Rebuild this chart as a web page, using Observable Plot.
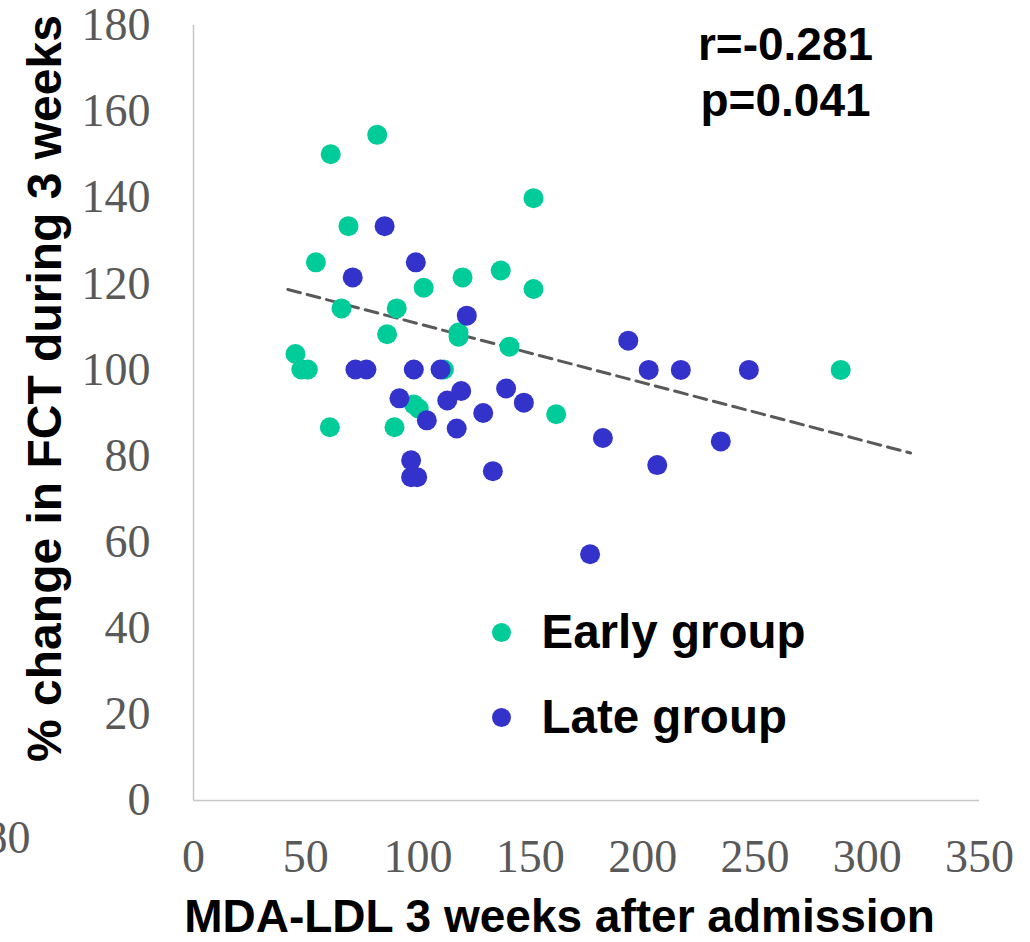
<!DOCTYPE html>
<html>
<head>
<meta charset="utf-8">
<script src="https://cdn.jsdelivr.net/npm/d3@7"></script>
<script src="https://cdn.jsdelivr.net/npm/@observablehq/plot@0.6"></script>
<style>
  html, body { margin: 0; padding: 0; background: #fff; overflow: hidden; }
  #chart svg { display: block; }
</style>
</head>
<body>
<div id="chart"></div>
<script>
// ---- Data ----
const earlyX = [81.8, 61.1, 151.4, 69.0, 54.5, 136.8, 119.8, 102.5, 151.4, 65.9, 90.5, 86.2, 118.0, 118.0, 140.7, 45.4, 48.0, 50.9, 111.5, 288.2, 98.1, 100.3, 161.5, 60.7, 89.5];
const earlyY = [154.6, 150.1, 139.9, 133.4, 125.0, 123.1, 121.5, 119.1, 118.8, 114.3, 114.3, 108.3, 108.7, 107.7, 105.4, 103.7, 100.1, 100.1, 100.1, 100.0, 92.0, 91.0, 89.7, 86.7, 86.7];
const lateX = [85.1, 99.0, 70.9, 121.7, 193.6, 72.1, 77.0, 98.1, 110.0, 202.7, 217.0, 247.3, 91.7, 113.0, 119.2, 139.2, 147.1, 129.0, 103.9, 117.2, 96.9, 96.9, 99.6, 133.3, 182.3, 206.5, 234.8, 176.6];
const lateY = [133.4, 125.0, 121.5, 112.6, 106.8, 100.1, 100.1, 100.1, 100.1, 100.0, 100.0, 100.0, 93.4, 92.9, 95.1, 95.7, 92.4, 90.0, 88.3, 86.4, 79.0, 75.1, 75.1, 76.5, 84.2, 77.9, 83.4, 57.2];
const trendX = [42.0, 319.3];
const trendY = [118.7, 80.7];
const xTicks = [0, 50, 100, 150, 200, 250, 300, 350];
const yTicks = [0, 20, 40, 60, 80, 100, 120, 140, 160, 180];
const groupNames = ["Early group", "Late group"];
const statLines = ["r=-0.281", "p=0.041"];
const xTitle = "MDA-LDL 3 weeks after admission";
const yTitle = "% change in FCT during 3 weeks";
const strayLabel = "180";

// ---- Build tables ----
const early = earlyX.map((x, i) => ({x, y: earlyY[i]}));
const late = lateX.map((x, i) => ({x, y: lateY[i]}));
const trend = trendX.map((x, i) => ({x, y: trendY[i]}));

const GREEN = "#00CC99", BLUE = "#3333CC";
const SANS = "Liberation Sans, Arial, sans-serif";
const SERIF = "Liberation Serif, Times New Roman, serif";
const ML = 193, MT = 25;

function label(text, px, py, opts = {}) {
  return Plot.text([text], {
    text: d => d, frameAnchor: "top-left", dx: px - ML, dy: py - MT,
    fontFamily: SANS, fontWeight: "bold", fontSize: 46, fill: "#000",
    textAnchor: "middle", lineAnchor: "middle", ...opts
  });
}

const chart = Plot.plot({
  width: 1030,
  height: 942,
  marginLeft: ML,
  marginRight: 51,
  marginTop: MT,
  marginBottom: 142,
  style: {background: "#fff", fontFamily: SERIF, overflow: "visible"},
  x: {domain: [0, 350]},
  y: {domain: [0, 180]},
  marks: [
    Plot.ruleY([0], {stroke: "#c8c8c8", strokeWidth: 1.5}),
    Plot.ruleX([0], {stroke: "#c8c8c8", strokeWidth: 1.5}),
    Plot.axisY({ticks: yTicks, tickSize: 0, tickPadding: 43, fontSize: 46, fontFamily: SERIF, color: "#595959", label: null}),
    Plot.axisX({ticks: xTicks, tickSize: 0, tickPadding: 39, fontSize: 46, fontFamily: SERIF, color: "#595959", label: null}),
    Plot.line(trend, {x: "x", y: "y", stroke: "#595959", strokeWidth: 3, strokeDasharray: "13,7"}),
    Plot.dot(early, {x: "x", y: "y", r: 10, fill: GREEN}),
    Plot.dot(late, {x: "x", y: "y", r: 10, fill: BLUE}),
    // statistics annotation
    label(statLines[0], 785, 45),
    label(statLines[1], 785, 101),
    // legend
    Plot.dot([GREEN], {frameAnchor: "top-left", dx: 501 - ML, dy: 632 - MT, r: 9.5, fill: d => d}),
    Plot.dot([BLUE], {frameAnchor: "top-left", dx: 501 - ML, dy: 717 - MT, r: 9.5, fill: d => d}),
    label(groupNames[0], 541, 632, {textAnchor: "start", fontSize: 47.5}),
    label(groupNames[1], 541, 717, {textAnchor: "start", fontSize: 47.5}),
    // axis titles
    label(xTitle, 559, 917),
    label(yTitle, 45, 388, {rotate: -90, fontSize: 48}),
    // stray partial label at bottom-left
    Plot.text([strayLabel], {text: d => d, frameAnchor: "top-left", dx: 30 - ML, dy: 838 - MT,
      fontFamily: SERIF, fontSize: 46, fill: "#595959", textAnchor: "end", lineAnchor: "middle"})
  ]
});
document.getElementById("chart").appendChild(chart);
</script>
</body>
</html>
